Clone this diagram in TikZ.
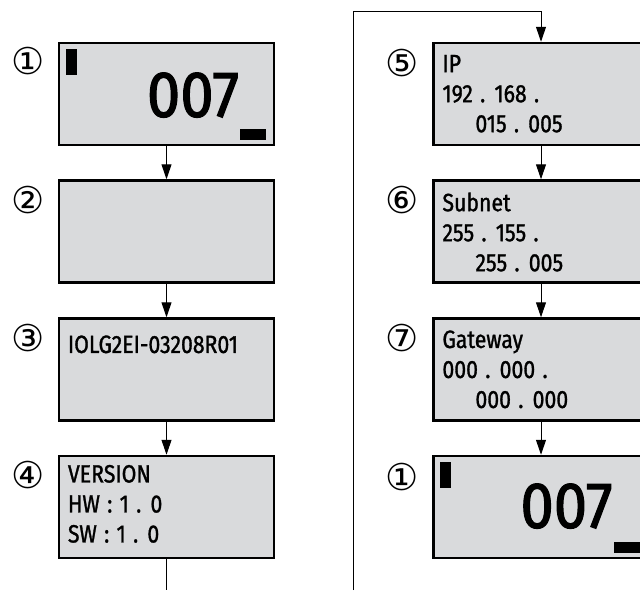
\documentclass[tikz,border=0pt]{standalone}
\usepackage{fontspec}
\setmainfont{Fira Sans}[FakeStretch=0.85, FakeBold=1.2, WordSpace=1.3]
\newfontfamily\bigfont{Fira Sans}[FakeStretch=0.92, FakeBold=1.8]
\newfontfamily\circfont{DejaVu Sans}
\usetikzlibrary{arrows.meta}
\definecolor{lcdgrey}{HTML}{D9DADC}
\tikzset{
  lcd/.style={draw, line width=2.5pt, fill=lcdgrey, minimum width=215pt, minimum height=102pt, inner sep=0pt},
  lcdtext/.style={anchor=north west, inner sep=0pt, align=left, font=\fontsize{25}{30}\selectfont},
  bignum/.style={anchor=base west, inner sep=0pt, font=\bigfont\fontsize{65}{65}\selectfont},
  stepnum/.style={inner sep=0pt, font=\circfont\fontsize{37}{37}\selectfont},
  flow/.style={line width=1pt, -{Triangle[length=15pt,width=10pt]}},
  plain/.style={line width=1pt}
}
\begin{document}
\begin{tikzpicture}[x=1pt, y=-1pt]
  \useasboundingbox (0,0) rectangle (640,590);
  \clip (0,0) rectangle (640,590);
  % left column
  \node[lcd] (b1) at (166.5,94) {};
  \node[lcd] (b2) at (166.5,231.5) {};
  \node[lcd] (b3) at (166.5,369.5) {};
  \node[lcd] (b4) at (166.5,507) {};
  % right column
  \node[lcd] (b5) at (541,94) {};
  \node[lcd] (b6) at (541,231.5) {};
  \node[lcd] (b7) at (541,369.5) {};
  \node[lcd] (b8) at (541,507) {};
  % step numbers
  \node[stepnum] (n1) at (28,61) {①};
  \node[stepnum] (n2) at (28,200) {②};
  \node[stepnum] (n3) at (28,338) {③};
  \node[stepnum] (n4) at (28,475) {④};
  \node[stepnum] (n5) at (402,63) {⑤};
  \node[stepnum] (n6) at (402,200) {⑥};
  \node[stepnum] (n7) at (402,338) {⑦};
  \node[stepnum] (n8) at (402,477) {①};
  % display 1 (left)
  \fill ([shift={(8,7)}]b1.north west) rectangle ([shift={(19,33)}]b1.north west);
  \fill ([shift={(-9,-6)}]b1.south east) rectangle ([shift={(-35,-17)}]b1.south east);
  \node[bignum] (v1) at ([shift={(89,75)}]b1.north west) {007};
  % display 3 and 4
  \node[lcdtext] (t3) at ([shift={(10,18)}]b3.north west) {IOLG2EI-03208R01};
  \node[lcdtext] (t4) at ([shift={(10,10)}]b4.north west) {VERSION\\HW : 1 . 0\\SW : 1 . 0};
  % display 5,6,7
  \node[lcdtext] (t5) at ([shift={(10,13)}]b5.north west) {IP\\192 . 168 .\\\hspace{33pt}015 . 005};
  \node[lcdtext] (t6) at ([shift={(10,13)}]b6.north west) {Subnet\\255 . 155 .\\\hspace{33pt}255 . 005};
  \node[lcdtext] (t7) at ([shift={(10,13)}]b7.north west) {Gateway\\000 . 000 .\\\hspace{33pt}000 . 000};
  % display 1 (right)
  \fill ([shift={(8,7)}]b8.north west) rectangle ([shift={(19,33)}]b8.north west);
  \fill ([shift={(182,87)}]b8.north west) rectangle ([shift={(208,98)}]b8.north west);
  \node[bignum] (v8) at ([shift={(88,73)}]b8.north west) {007};
  % connectors
  \draw[flow] (b1.south) -- (b2.north);
  \draw[flow] (b2.south) -- (b3.north);
  \draw[flow] (b3.south) -- (b4.north);
  \coordinate (leftend) at (166.5,590);
  \draw[plain] (b4.south) -- (leftend);
  \draw[flow] (b5.south) -- (b6.north);
  \draw[flow] (b6.south) -- (b7.north);
  \draw[flow] (b7.south) -- (b8.north);
  \coordinate (loopstart) at (353,590);
  \coordinate (looptop) at (353,11);
  \draw[flow] (loopstart) -- (looptop) -| (b5.north);
\end{tikzpicture}
\end{document}
